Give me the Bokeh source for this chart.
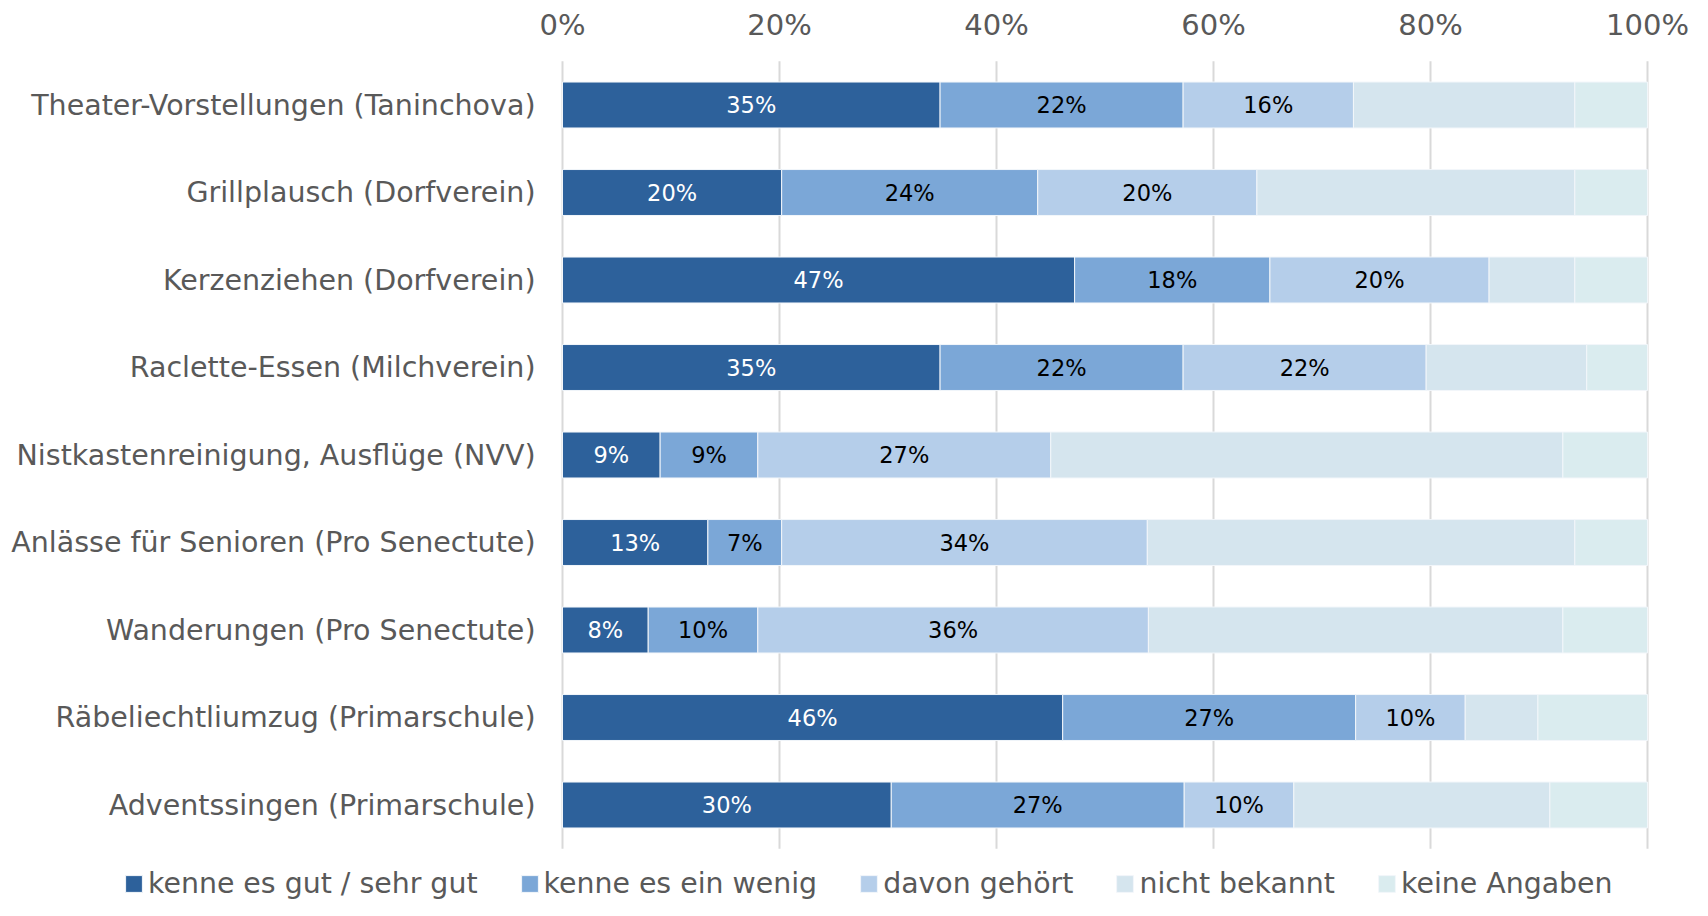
from bokeh.plotting import figure
from bokeh.models import ColumnDataSource, Range1d, Legend, LegendItem
from bokeh.core.properties import value
from bokeh.embed import file_html
from bokeh.resources import INLINE

categories = [
    "Theater-Vorstellungen (Taninchova)",
    "Grillplausch (Dorfverein)",
    "Kerzenziehen (Dorfverein)",
    "Raclette-Essen (Milchverein)",
    "Nistkastenreinigung, Ausflüge (NVV)",
    "Anlässe für Senioren (Pro Senectute)",
    "Wanderungen (Pro Senectute)",
    "Räbeliechtliumzug (Primarschule)",
    "Adventssingen (Primarschule)",
]
series_names = ["kenne es gut / sehr gut", "kenne es ein wenig", "davon gehört",
                "nicht bekannt", "keine Angaben"]
gut = [34.8, 20.2, 47.2, 34.8, 9.0, 13.4, 7.9, 46.1, 30.3]
wenig = [22.4, 23.6, 18.0, 22.4, 9.0, 6.8, 10.1, 27.0, 27.0]
gehoert = [15.7, 20.2, 20.2, 22.4, 27.0, 33.7, 36.0, 10.1, 10.1]
nicht = [20.4, 29.3, 7.9, 14.8, 47.2, 39.4, 38.2, 6.7, 23.6]
keine = [6.7, 6.7, 6.7, 5.6, 7.8, 6.7, 7.8, 10.1, 9.0]
tick_values = [0, 20, 40, 60, 80, 100]
tick_labels = ["0%", "20%", "40%", "60%", "80%", "100%"]

colors = ["#2D619B", "#7BA7D7", "#B5CEEA", "#D5E5EE", "#DAECEF"]
keys = ["gut", "wenig", "gehoert", "nicht", "keine"]
pos = list(range(len(categories)))
src = ColumnDataSource(dict(pos=pos, cat=categories, gut=gut, wenig=wenig,
                            gehoert=gehoert, nicht=nicht, keine=keine))

FONT = "DejaVu Sans"
GRAY = "#595959"
W, H = 1692, 900
# pixel layout of the plotting area (style)
X0, PX_PER_PCT = 562, 10.85
Y0, PX_PER_ROW = 104.5, 87.5

p = figure(width=W, height=H, output_backend="svg", toolbar_location=None,
           x_range=Range1d(-X0 / PX_PER_PCT, (W - X0) / PX_PER_PCT),
           y_range=Range1d((H - Y0) / PX_PER_ROW, -Y0 / PX_PER_ROW),
           x_axis_location=None, y_axis_location=None, min_border=0)
p.outline_line_color = None
p.background_fill_color = "white"
p.border_fill_color = "white"
p.grid.visible = False

# vertical gridlines
p.segment(x0=tick_values, x1=tick_values,
          y0=[-0.5] * len(tick_values), y1=[len(categories) - 0.5] * len(tick_values),
          line_color="#D9D9D9", line_width=2)

renderers = p.hbar_stack(keys, y="pos", height=0.525, color=colors, source=src,
                         line_color="#F2F6FA", line_width=1)

# value labels for first three series
lefts = [0.0] * len(categories)
label_x, label_y, label_t, label_c = [], [], [], []
for k, vals in zip(keys[:3], [gut, wenig, gehoert]):
    for i, v in enumerate(vals):
        label_x.append(lefts[i] + v / 2)
        label_y.append(pos[i])
        label_t.append(f"{round(v)}%")
        label_c.append("white" if k == "gut" else "#000000")
        lefts[i] += v
lsrc = ColumnDataSource(dict(x=label_x, y=label_y, t=label_t, c=label_c))
p.text(x="x", y="y", text="t", source=lsrc, text_color="c",
       text_font=value(FONT), text_font_size="22.5px",
       text_align="center", text_baseline="middle")

# category labels (left)
p.text(x=[-27 / PX_PER_PCT] * len(categories), y=pos, text=categories,
       text_color=GRAY, text_font=value(FONT), text_font_size="28.5px",
       text_align="right", text_baseline="middle")

# tick labels (top)
p.text(x=tick_values, y=[(24 - Y0) / PX_PER_ROW] * len(tick_values), text=tick_labels,
       text_color=GRAY, text_font=value(FONT), text_font_size="29px",
       text_align="center", text_baseline="middle")

legend = Legend(items=[LegendItem(label=n, renderers=[r]) for n, r in zip(series_names, renderers)],
                orientation="horizontal", location=(123, 0),
                glyph_width=21, glyph_height=21, label_standoff=4, spacing=41,
                padding=0, margin=0, border_line_color=None,
                background_fill_alpha=0,
                label_text_font=FONT, label_text_font_size="28.4px",
                label_text_color=GRAY)
p.add_layout(legend, "center")

open("out.html", "w").write(file_html(p, INLINE))
